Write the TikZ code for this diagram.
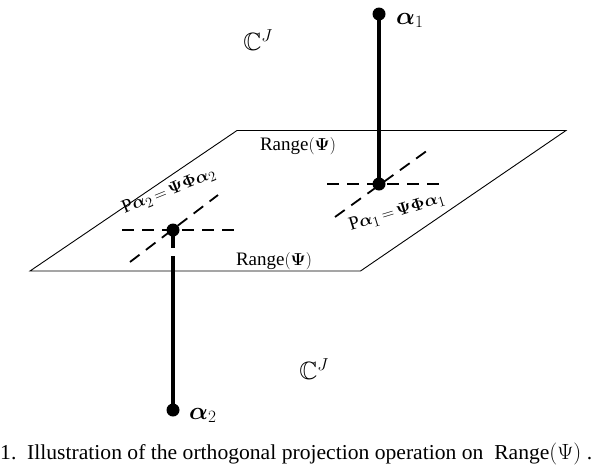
\documentclass[tikz,border=0pt]{standalone}
\usepackage{amsmath,amssymb,bm}
\usepackage{fontspec}
\setmainfont{Liberation Serif}
\usepackage{graphicx}
\begin{document}
\begin{tikzpicture}[x=1pt,y=-1pt,
  dot/.style={circle,fill=black,inner sep=0pt,minimum size=13pt},
  plane/.style={line width=0.9pt},
  stem/.style={line width=3.3pt},
  guide/.style={line width=1.8pt,dash pattern=on 12pt off 8pt},
  lbl/.style={inner sep=0pt,font=\fontsize{19}{21}\selectfont},
  big/.style={inner sep=0pt,font=\fontsize{25}{27}\selectfont}]
\useasboundingbox (0,0) rectangle (594,464);
% plane
\coordinate (tl) at (237,130.5);
\coordinate (tr) at (566,130.5);
\coordinate (br) at (360.5,271);
\coordinate (bl) at (30,271);
\draw[plane] (tl) -- (tr) -- (br) -- (bl) -- cycle;
% points
\node[dot] (a1) at (379,14) {};
\node[dot] (p1) at (379,184) {};
\node[dot] (p2) at (173,230) {};
\node[dot] (a2) at (173,410) {};
% guides at p1
\coordinate (h1l) at (327,184); \coordinate (h1r) at (443,184);
\coordinate (d1a) at (335,217); \coordinate (d1b) at (428,150);
\draw[guide] (h1l) -- (h1r);
\draw[guide] (d1a) -- (d1b);
% guides at p2
\coordinate (h2l) at (122,230); \coordinate (h2r) at (237,230);
\coordinate (d2a) at (130,262); \coordinate (d2b) at (218,195);
\draw[guide] (h2l) -- (h2r);
\draw[guide] (d2a) -- (d2b);
% stems
\draw[stem] (a1.center) -- (p1.center);
\coordinate (g1) at (173,248); \coordinate (g2) at (173,256);
\draw[stem] (p2.center) -- (g1);
\draw[stem] (g2) -- (a2.center);
% labels
\node[big,anchor=base west] (la1) at (396,24) {$\boldsymbol{\alpha}_{1}$};
\node[big,anchor=base west] (la2) at (189,419) {$\boldsymbol{\alpha}_{2}$};
\node[big] (c1) at (258,40) {$\mathbb{C}^{J}$};
\node[big] (c2) at (314,369) {$\mathbb{C}^{J}$};
\node[lbl,anchor=base] (r1) at (298,150) {Range$(\boldsymbol{\Psi})$};
\node[lbl,anchor=base] (r2) at (274,265) {Range$(\boldsymbol{\Psi})$};
\node[lbl,rotate=17] (e1) at (397,212) {$\mathrm{P}\boldsymbol{\alpha}_{1}\,{=}\,\boldsymbol{\Psi}\boldsymbol{\Phi}\boldsymbol{\alpha}_{1}$};
\node[lbl,rotate=22] (e2) at (169,191) {$\mathrm{P}\boldsymbol{\alpha}_{2}\,{=}\,\boldsymbol{\Psi}\boldsymbol{\Phi}\boldsymbol{\alpha}_{2}$};
% caption
\node[inner sep=0pt,anchor=base west] (cap) at (0,459) {\resizebox{592pt}{16.5pt}{\fontsize{24}{26}\selectfont 1.\ \ Illustration of the orthogonal projection operation on\ \ Range$(\Psi)$\ .}};
\end{tikzpicture}
\end{document}
